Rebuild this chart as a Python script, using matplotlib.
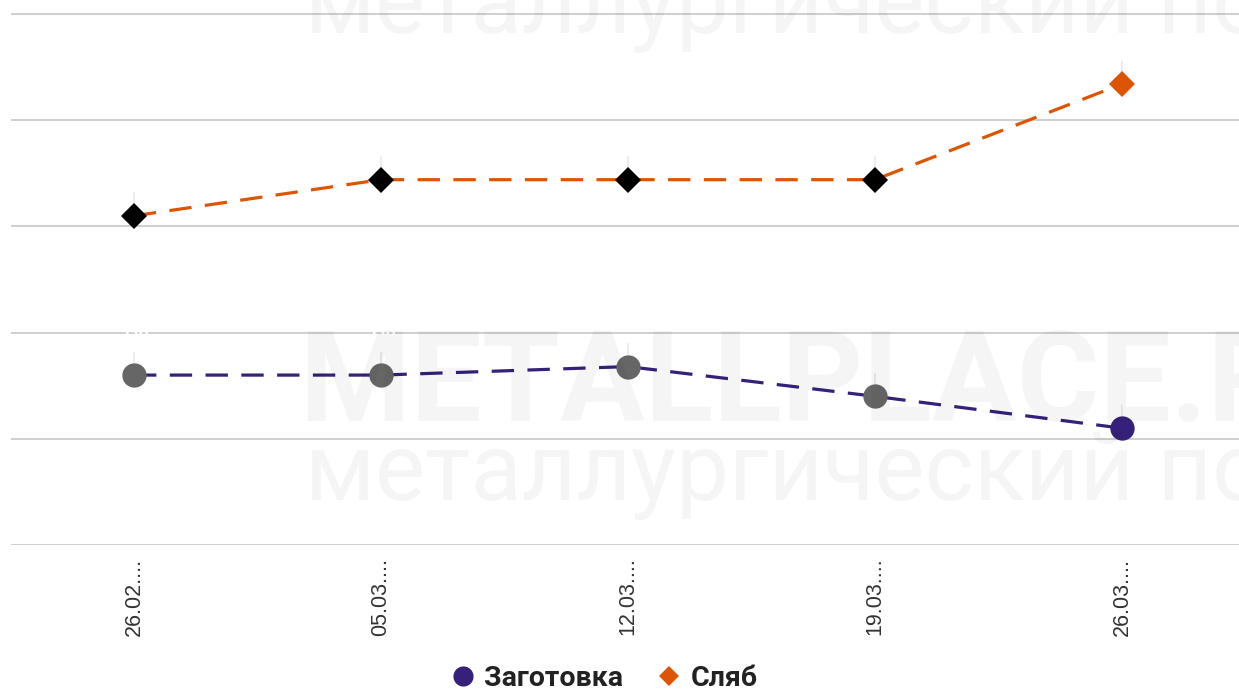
import matplotlib
matplotlib.use('Agg')
import matplotlib.pyplot as plt
from matplotlib.lines import Line2D

# ---- data ----
dates = ['26.02....', '05.03....', '12.03....', '19.03....', '26.03....']
billet = [530, 530, 534, 520, 505]      # Заготовка
slab = [605, 622, 622, 622, 667]        # Сляб
series_names = ['Заготовка', 'Сляб']
grid_values = [450, 500, 550, 600, 650, 700]

purple = '#35207a'
orange = '#dd5503'
gray_marker = '#666666'
black_marker = '#000000'

W, H = 1239, 691
fig = plt.figure(figsize=(W / 100, H / 100), dpi=100)
fig.patch.set_facecolor('white')

# ---- axes ----
ax = fig.add_axes([11 / W, 1 - 545 / H, 1228 / W, 545 / H])
ax.set_facecolor('none')
ax.set_xlim(-0.498, 4.474)
ax.set_ylim(450, 706.6)
ax.set_yticks(grid_values)
ax.yaxis.grid(True, color='#cccccc', linewidth=1.3)
ax.set_axisbelow(True)
ax.tick_params(axis='y', length=0, labelleft=False)
for s in ax.spines.values():
    s.set_visible(False)

x = list(range(len(dates)))
ax.set_xticks(x)
ax.set_xticklabels(dates, rotation=90, family='Liberation Sans', fontsize=15.5,
                   color='#333333')
ax.tick_params(axis='x', length=0, pad=9)

# lines
ax.plot(x, billet, color=purple, linewidth=2.3, dashes=(7, 4.2), zorder=3)
ax.plot(x, slab, color=orange, linewidth=2.3, dashes=(7, 4.2), zorder=3)

# markers
ax.plot(x[:-1], billet[:-1], linestyle='none', marker='o', markersize=17.5,
        color=gray_marker, markeredgewidth=0, zorder=4)
ax.plot(x[-1:], billet[-1:], linestyle='none', marker='o', markersize=17.5,
        color=purple, markeredgewidth=0, zorder=4)
ax.plot(x[:-1], slab[:-1], linestyle='none', marker='D', markersize=13.5,
        color=black_marker, markeredgewidth=0, zorder=4)
ax.plot(x[-1:], slab[-1:], linestyle='none', marker='D', markersize=13.5,
        color=orange, markeredgewidth=0, zorder=4)

# (white) data labels with faint connectors
for vals in (billet, slab):
    for xi, v in zip(x, vals):
        ax.annotate(str(v), xy=(xi, v), xytext=(0, 30), textcoords='offset points',
                    ha='center', va='center', fontsize=13, weight='bold',
                    family='Roboto', color='white', zorder=2,
                    arrowprops=dict(arrowstyle='-', color='#e4e4e4', lw=1,
                                    shrinkA=5, shrinkB=9))

# ---- faint watermark overlay ----
wm_kw = dict(family='Roboto', color='black', alpha=0.04, ha='left',
             va='baseline', zorder=10)
fig.text(305 / W, 1 - 33 / H, 'металлургический портал', fontsize=68, **wm_kw)
fig.text(300 / W, 1 - 421 / H, 'METALLPLACE.RU', weight='bold', fontsize=91, **wm_kw)
fig.text(305 / W, 1 - 500 / H, 'металлургический портал', fontsize=68, **wm_kw)

# ---- legend ----
handles = [
    Line2D([], [], linestyle='none', marker='o', markersize=14.5, color=purple,
           markeredgewidth=0),
    Line2D([], [], linestyle='none', marker='D', markersize=10.5, color=orange,
           markeredgewidth=0),
]
leg = fig.legend(handles, series_names, loc='center',
                 bbox_to_anchor=(603 / W, 1 - 678 / H), ncol=2, frameon=False,
                 prop={'family': 'Roboto', 'weight': 'bold', 'size': 20.5},
                 handletextpad=0.25, columnspacing=1.1, handlelength=1.0)
for t in leg.get_texts():
    t.set_color('#222222')

fig.savefig('out.png', dpi=100, facecolor='white')
